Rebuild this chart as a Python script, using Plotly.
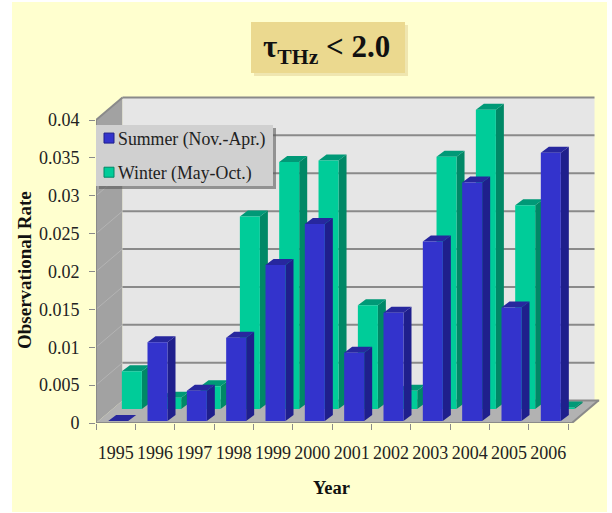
import plotly.graph_objects as go

YEARS = ["1995", "1996", "1997", "1998", "1999", "2000",
         "2001", "2002", "2003", "2004", "2005", "2006"]
SUMMER = [0, 0.0104, 0.004, 0.011, 0.0206, 0.026, 0.009, 0.0143, 0.0237, 0.0315, 0.015, 0.0354]
WINTER = [0.005, 0.0015, 0.003, 0.0254, 0.0326, 0.0328, 0.0137, 0.0024, 0.0333, 0.0395, 0.0269, 0.0002]
Y_TICKS = [0, 0.005, 0.01, 0.015, 0.02, 0.025, 0.03, 0.035, 0.04]
Y_LABELS = ["0", "0.005", "0.01", "0.015", "0.02", "0.025", "0.03", "0.035", "0.04"]

W, H = 612, 513
L, R, T, B = 96, 602, 92, 423
PXX = (568 - 96) / 12
PXY = (423 - 120) / 0.04
XMAX, YMAX = (R - L) / PXX, (B - T) / PXY
WALL_DX, WALL_DY = 26.5 / PXX, 22.5 / PXY
BAR_W, BAR_DX, BAR_DY = 20 / PXX, 8 / PXX, 6 / PXY
FONT = "Liberation Serif"
GREY = "#8A8A8A"


def fx(x):
    return (x - L) / (R - L)


def fy(y):
    return (B - y) / (B - T)


def px(x0, x1, y0, y1):
    return dict(xref="paper", yref="paper", x0=fx(x0), x1=fx(x1), y0=fy(y0), y1=fy(y1))


def poly(points, color):
    return go.Scatter(x=[p[0] for p in points], y=[p[1] for p in points], mode="lines",
                      fill="toself", fillcolor=color, line=dict(width=0),
                      showlegend=False, hoverinfo="skip")


def lines(segments, color, width):
    xs, ys = [], []
    for a, b in segments:
        xs += [a[0], b[0], None]
        ys += [a[1], b[1], None]
    return go.Scatter(x=xs, y=ys, mode="lines", line=dict(color=color, width=width),
                      showlegend=False, hoverinfo="skip")


def bars(values, xshift, yshift, front, side, top):
    f, s, t = [], [], []
    for i, v in enumerate(values):
        x0 = i + 0.5 + xshift - BAR_W / 2
        x1 = x0 + BAR_W
        y0 = yshift
        y1 = yshift + v
        f += [(x0, y0), (x1, y0), (x1, y1), (x0, y1), (x0, y0), (None, None)]
        s += [(x1, y0), (x1 + BAR_DX, y0 + BAR_DY), (x1 + BAR_DX, y1 + BAR_DY), (x1, y1), (x1, y0), (None, None)]
        t += [(x0, y1), (x1, y1), (x1 + BAR_DX, y1 + BAR_DY), (x0 + BAR_DX, y1 + BAR_DY), (x0, y1), (None, None)]
    return [poly(s, side), poly(t, top), poly(f, front)]


traces = []
traces.append(poly([(0, 0), (WALL_DX, WALL_DY), (WALL_DX, 0.04 + WALL_DY), (0, 0.04)], "#A2A2A2"))
traces.append(poly([(WALL_DX, WALL_DY), (12 + WALL_DX, WALL_DY), (12 + WALL_DX, 0.04 + WALL_DY),
                    (WALL_DX, 0.04 + WALL_DY)], "#E6E6E6"))
traces.append(poly([(0, 0), (12.1, 0), (12.1 + WALL_DX, WALL_DY), (WALL_DX, WALL_DY)], "#B2B2B2"))
traces.append(lines([((0, v), (WALL_DX, v + WALL_DY)) for v in Y_TICKS[1:]], "#B4B4B4", 1))
traces.append(lines([((WALL_DX, v + WALL_DY), (12 + WALL_DX, v + WALL_DY)) for v in Y_TICKS[1:]]
                    + [((WALL_DX, WALL_DY), (12.12 + WALL_DX, WALL_DY)),
                       ((12.1, 0), (12.1 + WALL_DX, WALL_DY)),
                       ((0, 0), (12.1, 0)), ((0, 0), (0, 0.04)), ((0, 0.04), (WALL_DX, 0.04 + WALL_DY))],
                    GREY, 2))

traces += bars(WINTER, 16.2 / PXX, 14 / PXY, "#00CC99", "#008866", "#009977")
traces += bars(SUMMER, 2.5 / PXX, 2 / PXY, "#3333CC", "#1F1F8C", "#27279E")

for name, color, edge in (("Summer (Nov.-Apr.)", "#3333CC", "#1F1F8C"), ("Winter (May-Oct.)", "#00CC99", "#008866")):
    traces.append(go.Scatter(x=[None], y=[None], mode="markers", name=name, legendgroup=name,
                             marker=dict(symbol="square", size=10, color=color, line=dict(width=1, color=edge))))

fig = go.Figure(traces)
fig.update_layout(
    width=W, height=H, autosize=False, paper_bgcolor="white", plot_bgcolor="rgba(0,0,0,0)",
    margin=dict(l=L, r=W - R, t=T, b=H - B, pad=0),
    font=dict(family=FONT, color="#222222"),
    xaxis=dict(range=[0, XMAX], tickmode="array", tickvals=[i + 0.5 for i in range(12)], ticktext=YEARS,
               ticks="", showgrid=False, zeroline=False, showline=False,
               tickfont=dict(size=18, family=FONT, color="#222222"), ticklabelstandoff=17,
               minor=dict(tickmode="array", tickvals=list(range(13)), ticks="outside", ticklen=6,
                          tickcolor=GREY, tickwidth=1, showgrid=False)),
    yaxis=dict(range=[0, YMAX], tickmode="array", tickvals=Y_TICKS, ticktext=Y_LABELS,
               ticks="outside", ticklen=6, tickcolor=GREY, showgrid=False, zeroline=False,
               showline=False, tickfont=dict(size=18, family=FONT, color="#222222"), ticklabelstandoff=6),
    legend=dict(x=fx(89), y=fy(120), xanchor="left", yanchor="top",
                bgcolor="rgba(0,0,0,0)", indentation=-11, font=dict(size=17.8, family=FONT, color="#222222"),
                tracegroupgap=8),
    shapes=[
        dict(type="rect", layer="below", line_width=0, fillcolor="#FFFFCF", **px(12, 607, 2, 512)),
        dict(type="rect", layer="below", line_width=0, fillcolor="#EFE6B0", **px(254, 408, 25, 76)),
        dict(type="rect", layer="below", line_width=0, fillcolor="#EBD98F", **px(251, 405, 22, 73)),
        dict(type="rect", layer="above", line_width=0, fillcolor="rgba(90,90,90,0.6)", **px(99, 276, 128, 189)),
        dict(type="rect", layer="above", line_width=0, fillcolor="#D0D0D0", **px(96, 273, 125, 186)),
    ],
    annotations=[
        dict(text="<b>τ<sub>THz</sub> &lt; 2.0</b>", xref="paper", yref="paper", x=fx(326), y=fy(49),
             xanchor="center", yanchor="middle", showarrow=False,
             font=dict(size=31, family=FONT, color="#111111")),
        dict(text="<b>Observational Rate</b>", xref="paper", yref="paper", x=fx(24), y=fy(270), textangle=-90,
             xanchor="center", yanchor="middle", showarrow=False,
             font=dict(size=19, family=FONT, color="#111111")),
        dict(text="<b>Year</b>", xref="paper", yref="paper", x=fx(331), y=fy(488),
             xanchor="center", yanchor="middle", showarrow=False,
             font=dict(size=18.5, family=FONT, color="#111111")),
    ],
)
fig.write_html("out.html", config={"displayModeBar": False},
               post_script="document.body.style.margin='0';"
                           "document.querySelectorAll('.legend g.legendpoints').forEach("
                           "function(g){g.setAttribute('transform','translate(11,0)');});")
